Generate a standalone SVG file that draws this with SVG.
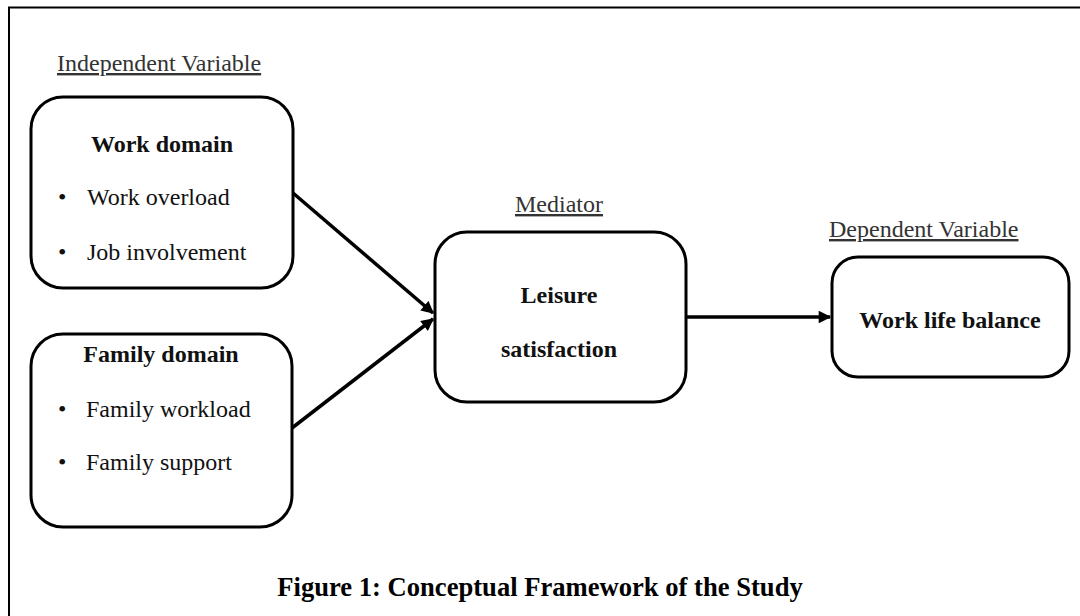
<svg xmlns="http://www.w3.org/2000/svg" width="1080" height="616" viewBox="0 0 1080 616">
<defs>
<style>
.box{fill:#fff;stroke:#000;stroke-width:3}
.lbl{font-family:"Liberation Serif","Times New Roman",serif;font-size:24px;fill:#333;text-decoration:underline}
.t{font-family:"Liberation Serif","Times New Roman",serif;font-size:24px;fill:#111}
.b{font-family:"Liberation Serif","Times New Roman",serif;font-size:24px;font-weight:bold;fill:#111}
.edge{stroke:#000;stroke-width:3.5;fill:none;marker-end:url(#ah)}
</style>
<marker id="ah" viewBox="0 0 10 10" refX="9" refY="5" markerWidth="3.8" markerHeight="3.6" orient="auto" markerUnits="strokeWidth">
<path d="M0,0 L10,5 L0,10 z" fill="#000"/>
</marker>
</defs>
<rect width="1080" height="616" fill="#fff"/>
<path d="M9,616 V7.5 H1080" fill="none" stroke="#000" stroke-width="2"/>
<text class="lbl" x="57" y="71">Independent Variable</text>
<text class="lbl" x="515" y="212">Mediator</text>
<text class="lbl" x="829" y="237">Dependent Variable</text>
<g id="work-domain">
<rect class="box" x="31" y="97" width="262" height="191" rx="32"/>
<text class="b" x="162" y="152" text-anchor="middle">Work domain</text>
<text class="t" x="58" y="205">•</text>
<text class="t" x="87" y="205">Work overload</text>
<text class="t" x="58" y="260">•</text>
<text class="t" x="87" y="260">Job involvement</text>
</g>
<g id="family-domain">
<rect class="box" x="31" y="334" width="261" height="193" rx="32"/>
<text class="b" x="161" y="362" text-anchor="middle">Family domain</text>
<text class="t" x="58" y="417">•</text>
<text class="t" x="86" y="417">Family workload</text>
<text class="t" x="58" y="470">•</text>
<text class="t" x="86" y="470">Family support</text>
</g>
<g id="leisure-satisfaction">
<rect class="box" x="435" y="232" width="251" height="170" rx="32"/>
<text class="b" x="559" y="303" text-anchor="middle">Leisure</text>
<text class="b" x="559" y="357" text-anchor="middle">satisfaction</text>
</g>
<g id="work-life-balance">
<rect class="box" x="832" y="257" width="237" height="120" rx="26"/>
<text class="b" x="950" y="328" text-anchor="middle">Work life balance</text>
</g>
<g id="connectors">
<line class="edge" x1="293" y1="193" x2="433" y2="313"/>
<line class="edge" x1="292" y1="428" x2="433" y2="319"/>
<line class="edge" x1="686" y1="317" x2="830" y2="317"/>
</g>
<text x="540" y="596" text-anchor="middle" font-family="'Liberation Serif','Times New Roman',serif" font-size="26.6" font-weight="bold" fill="#000">Figure 1: Conceptual Framework of the Study</text>
</svg>
